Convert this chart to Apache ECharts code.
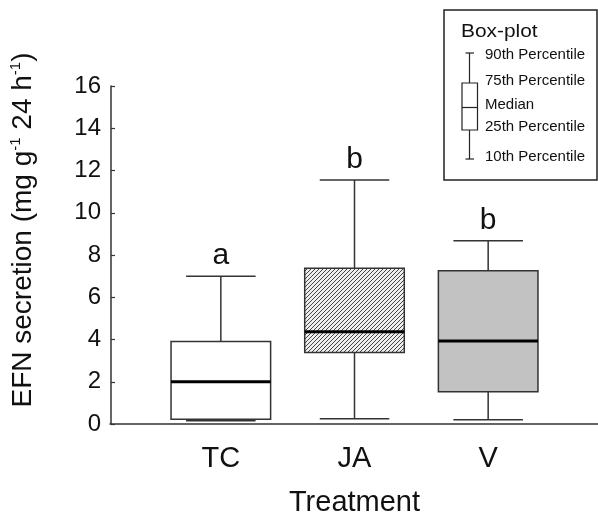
<!DOCTYPE html>
<html>
<head>
<meta charset="utf-8">
<script src="https://cdn.jsdelivr.net/npm/echarts@6/dist/echarts.min.js"></script>
<style>html,body{margin:0;padding:0;background:#fff}#c{width:598px;height:522px}</style>
</head>
<body>
<div id="c"></div>
<script>
// ---- data ----
var categories = ['TC', 'JA', 'V'];
var p10 = [0.15, 0.25, 0.2];
var p25 = [0.22, 3.39, 1.53];
var median = [2.0, 4.37, 3.93];
var p75 = [3.9, 7.37, 7.26];
var p90 = [7.0, 11.55, 8.68];
var letters = ['a', 'b', 'b'];
var yTicks = [0, 2, 4, 6, 8, 10, 12, 14, 16];
var legendLabels = ['90th Percentile', '75th Percentile', 'Median', '25th Percentile', '10th Percentile'];

var FONT = "'Liberation Sans', Arial, Helvetica, sans-serif";

// hatch pattern
var pc = document.createElement('canvas');
var S = 4;
pc.width = S; pc.height = S;
var g = pc.getContext('2d');
g.fillStyle = '#eeeeee'; g.fillRect(0, 0, S, S);
g.strokeStyle = '#444'; g.lineWidth = 1;
g.beginPath();
g.moveTo(0, S); g.lineTo(S, 0);
g.moveTo(-1, 1); g.lineTo(1, -1);
g.moveTo(S - 1, S + 1); g.lineTo(S + 1, S - 1);
g.stroke();

var fills = ['#ffffff', { image: pc, repeat: 'repeat' }, '#c2c2c2'];

var boxData = categories.map(function (c, i) {
  return [i, p10[i], p25[i], median[i], p75[i], p90[i], letters[i]];
});

var chart = echarts.init(document.getElementById('c'), null, { renderer: 'canvas' });

function legText(i, y) {
  return { type: 'text', x: 485, y: y, style: { text: legendLabels[i], fontSize: 15, fill: '#111', fontFamily: FONT, verticalAlign: 'middle' } };
}

chart.setOption({
  animation: false,
  textStyle: { fontFamily: FONT },
  grid: [
    { left: 153, right: 43, top: 86, bottom: 98 },
    { left: 110, right: 0, top: 86, bottom: 98 }
  ],
  xAxis: [
    {
      type: 'category', gridIndex: 0, data: categories,
      axisLine: { show: false }, axisTick: { show: false },
      axisLabel: { fontSize: 29, color: '#111', margin: 20, fontFamily: FONT },
      name: 'Treatment', nameLocation: 'middle', nameGap: 64,
      nameTextStyle: { fontSize: 29, color: '#111', fontFamily: FONT }
    },
    {
      type: 'value', gridIndex: 1, min: 0, max: 1,
      axisLine: { show: true, lineStyle: { color: '#333', width: 1.5 } },
      axisTick: { show: false }, axisLabel: { show: false }, splitLine: { show: false }
    }
  ],
  yAxis: [
    {
      type: 'value', gridIndex: 0, min: 0, max: 16, interval: 2, offset: 43,
      axisLine: { show: true, lineStyle: { color: '#333', width: 1.5 } },
      axisTick: { show: true, inside: true, length: 4, lineStyle: { color: '#333', width: 1.2 } },
      axisLabel: { fontSize: 24, color: '#111', margin: 10, fontFamily: FONT,
        formatter: function (v) { return yTicks.indexOf(v) >= 0 ? String(v) : ''; } },
      splitLine: { show: false },
      name: '{n|EFN secretion (mg g}{s|-1}{n| 24 h}{s|-1}{n|)}',
      nameLocation: 'middle', nameRotate: 90, nameGap: 73,
      nameTextStyle: {
        color: '#111', fontFamily: FONT, padding: [0, 0, 0, 50],
        rich: {
          n: { fontSize: 28, lineHeight: 30, color: '#111', fontFamily: FONT },
          s: { fontSize: 15, lineHeight: 30, verticalAlign: 'top', color: '#111', fontFamily: FONT }
        }
      }
    },
    { type: 'value', gridIndex: 1, show: false, min: 0, max: 1 }
  ],
  series: [{
    type: 'custom',
    xAxisIndex: 0, yAxisIndex: 0,
    data: boxData,
    encode: { x: 0, y: [1, 2, 3, 4, 5] },
    renderItem: function (params, api) {
      var i = api.value(0);
      var band = api.size([1, 0])[0];
      var bw = band * 0.745, cw = band * 0.52;
      var lo = api.coord([i, api.value(1)]);
      var q1 = api.coord([i, api.value(2)]);
      var md = api.coord([i, api.value(3)]);
      var q3 = api.coord([i, api.value(4)]);
      var hi = api.coord([i, api.value(5)]);
      var x = lo[0];
      var ls = { stroke: '#333', lineWidth: 1.5 };
      return {
        type: 'group',
        children: [
          { type: 'line', shape: { x1: x, y1: hi[1], x2: x, y2: q3[1] }, style: ls },
          { type: 'line', shape: { x1: x, y1: q1[1], x2: x, y2: lo[1] }, style: ls },
          { type: 'line', shape: { x1: x - cw / 2, y1: hi[1], x2: x + cw / 2, y2: hi[1] }, style: ls },
          { type: 'line', shape: { x1: x - cw / 2, y1: lo[1], x2: x + cw / 2, y2: lo[1] }, style: ls },
          { type: 'rect', shape: { x: x - bw / 2, y: q3[1], width: bw, height: q1[1] - q3[1] },
            style: { fill: fills[i], stroke: '#333', lineWidth: 1.5 } },
          { type: 'line', shape: { x1: x - bw / 2, y1: md[1], x2: x + bw / 2, y2: md[1] },
            style: { stroke: '#000', lineWidth: 3 } },
          { type: 'text', x: x, y: hi[1] - 5,
            style: { text: letters[i], fill: '#111', fontSize: 30, fontFamily: FONT,
              align: 'center', verticalAlign: 'bottom' } }
        ]
      };
    }
  }],
  graphic: [
    { type: 'rect', shape: { x: 444, y: 10, width: 153, height: 170 },
      style: { fill: '#fff', stroke: '#222', lineWidth: 1.5 } },
    { type: 'text', x: 461, y: 32, scaleX: 1.16, originX: 0, originY: 0, style: { text: 'Box-plot', fontSize: 18, fill: '#111', fontFamily: FONT, verticalAlign: 'middle' } },
    { type: 'line', shape: { x1: 469.5, y1: 53, x2: 469.5, y2: 83 }, style: { stroke: '#222', lineWidth: 1.2 } },
    { type: 'line', shape: { x1: 469.5, y1: 130, x2: 469.5, y2: 159 }, style: { stroke: '#222', lineWidth: 1.2 } },
    { type: 'line', shape: { x1: 465.5, y1: 53, x2: 474, y2: 53 }, style: { stroke: '#222', lineWidth: 1.2 } },
    { type: 'line', shape: { x1: 465.5, y1: 159, x2: 474, y2: 159 }, style: { stroke: '#222', lineWidth: 1.2 } },
    { type: 'rect', shape: { x: 462, y: 83, width: 15.5, height: 47 }, style: { fill: '#fff', stroke: '#222', lineWidth: 1.2 } },
    { type: 'line', shape: { x1: 462, y1: 107.5, x2: 477.5, y2: 107.5 }, style: { stroke: '#222', lineWidth: 1.2 } },
    legText(0, 55), legText(1, 81), legText(2, 105), legText(3, 127), legText(4, 157)
  ]
});
</script>
</body>
</html>
